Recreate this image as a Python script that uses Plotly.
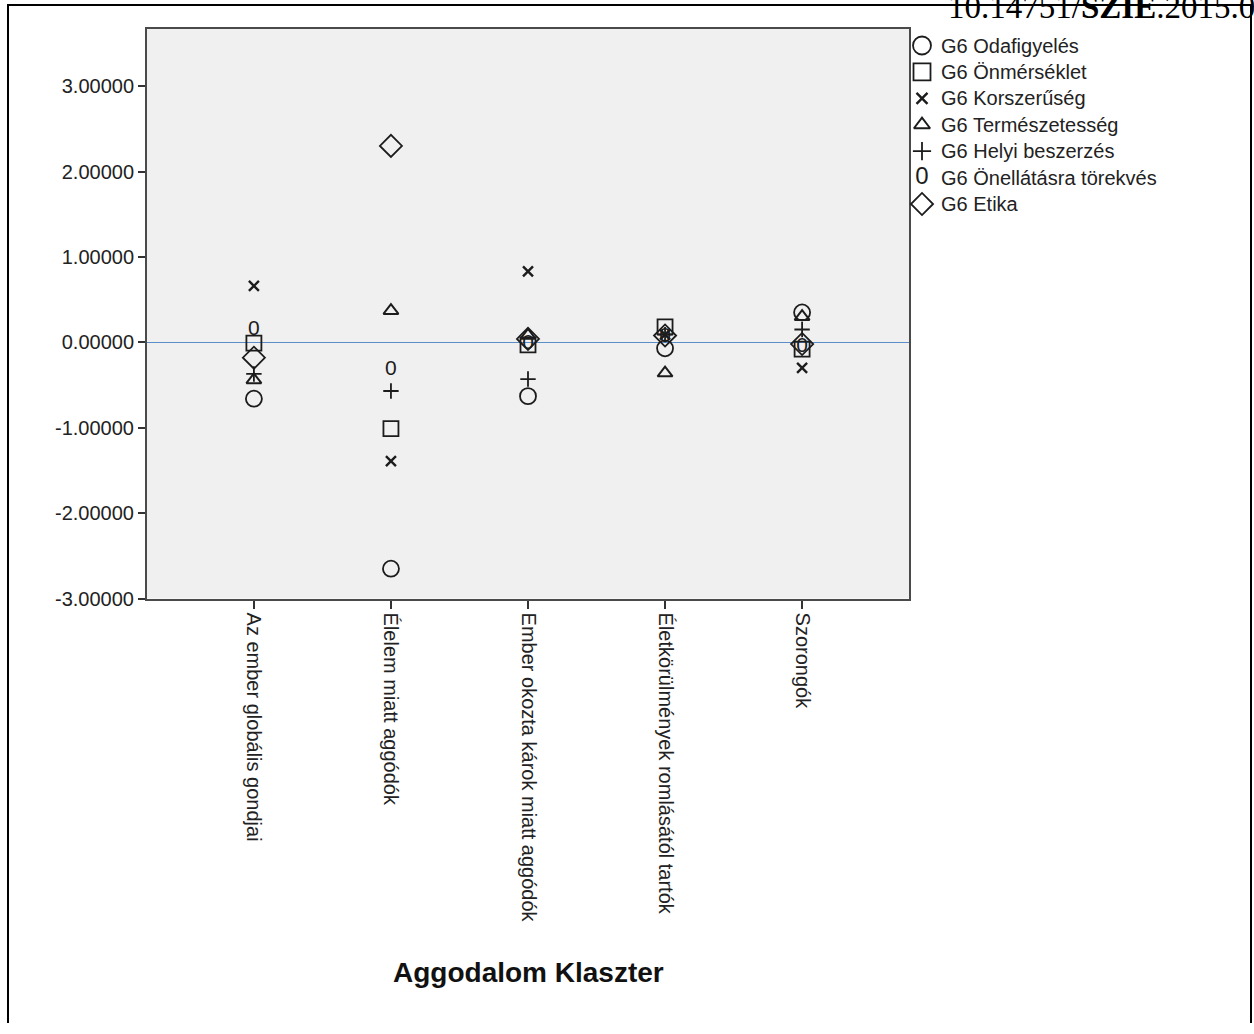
import plotly.graph_objects as go

# Cluster categories on the x axis
categories = [
    "Az ember globális gondjai",
    "Élelem miatt aggódók",
    "Ember okozta károk miatt aggódók",
    "Életkörülmények romlásától tartók",
    "Szorongók",
]

# Mean factor scores per cluster
odafigyeles = [-0.66, -2.65, -0.63, -0.07, 0.35]
onmerseklet = [-0.01, -1.01, -0.03, 0.18, -0.08]
korszeruseg = [0.66, -1.39, 0.83, 0.09, -0.30]
termeszetesseg = [-0.44, 0.37, 0.08, -0.36, 0.30]
helyi_beszerzes = [-0.37, -0.57, -0.43, 0.09, 0.15]
onellatas = [0.15, -0.32, -0.02, 0.07, -0.05]
etika = [-0.18, 2.30, 0.04, 0.08, -0.02]

series_names = [
    "G6 Odafigyelés",
    "G6 Önmérséklet",
    "G6 Korszerűség",
    "G6 Természetesség",
    "G6 Helyi beszerzés",
    "G6 Önellátásra törekvés",
    "G6 Etika",
]

y_ticks = [-3, -2, -1, 0, 1, 2, 3]
y_tick_labels = ["-3.00000", "-2.00000", "-1.00000", "0.00000",
                 "1.00000", "2.00000", "3.00000"]

W, H = 1254, 1034
INK = "#1c1c1c"
FONT = "Liberation Sans, Arial, sans-serif"

# plot area in pixels
PL, PR, PT, PB = 147, 909, 29, 605

# symbol styles: (symbol, size, line width, key size)
styles = [
    ("circle-open", 16, 1.8, 18),
    ("square-open", 15, 1.8, 17),
    ("x-thin-open", 10, 2.4, 11),
    ("triangle-up-open", 13, 2.0, 14),
    ("cross-thin-open", 11, 1.8, 13),
    (None, 21, 0, 24),
    ("diamond-open", 17, 1.8, 17),
]
values = [odafigyeles, onmerseklet, korszeruseg, termeszetesseg,
          helyi_beszerzes, onellatas, etika]

fig = go.Figure()

for name, vals, (sym, size, lw, _) in zip(series_names, values, styles):
    if sym is None:
        # the self-sufficiency series is drawn with a "0" glyph
        fig.add_trace(go.Scatter(
            x=categories, y=vals, mode="text", text=["0"] * len(vals),
            textposition="middle center",
            textfont=dict(family=FONT, size=size, color=INK),
            name=name, showlegend=False, xaxis="x", yaxis="y"))
    else:
        fig.add_trace(go.Scatter(
            x=categories, y=vals, mode="markers", name=name,
            marker=dict(symbol=sym, size=size, color=INK, line=dict(width=lw, color=INK)),
            showlegend=False, xaxis="x", yaxis="y"))

# hand-built key to the right of the plot area
key_y0, key_dy = 46, 26.7
key_x_sym, key_x_txt = 922, 939
for i, (name, (sym, _, lw, ksize)) in enumerate(zip(series_names, styles)):
    yy = key_y0 + i * key_dy
    if sym is None:
        fig.add_trace(go.Scatter(
            x=[key_x_sym], y=[yy], mode="text", text=["0"],
            textposition="middle center",
            textfont=dict(family=FONT, size=ksize, color=INK),
            showlegend=False, xaxis="x2", yaxis="y2", hoverinfo="skip"))
    else:
        fig.add_trace(go.Scatter(
            x=[key_x_sym], y=[yy], mode="markers",
            marker=dict(symbol=sym, size=ksize, color=INK, line=dict(width=lw, color=INK)),
            showlegend=False, xaxis="x2", yaxis="y2", hoverinfo="skip"))
    fig.add_annotation(
        x=key_x_txt, y=yy, xref="x2", yref="y2", text=name, showarrow=False,
        xanchor="left", yanchor="middle",
        font=dict(family=FONT, size=20, color="#222222"))

# axis title
fig.add_annotation(
    x=528, y=983, xref="x2", yref="y2", text="<b>Aggodalom Klaszter</b>",
    showarrow=False, xanchor="center", yanchor="middle",
    font=dict(family=FONT, size=28, color="#111111"))

# page reference printed across the top edge
fig.add_annotation(
    x=946, y=27, xref="x2", yref="y2",
    text="10.14751/<b>SZIE</b>.2015.0",
    showarrow=False, xanchor="left", yanchor="bottom",
    font=dict(family="Liberation Serif, Times New Roman, serif", size=33, color="#000000"))

shapes = [
    # grey plot background
    dict(type="rect", xref="x domain", yref="y domain", x0=0, x1=1, y0=0, y1=1,
         fillcolor="#f0f0f0", line=dict(width=0), layer="below"),
    # outer page frame
    dict(type="rect", xref="x2", yref="y2", x0=8, x1=1251, y0=5, y1=1045,
         line=dict(color="#000000", width=2), fillcolor="rgba(0,0,0,0)", layer="above"),
]

fig.update_layout(
    width=W, height=H, autosize=False,
    margin=dict(l=0, r=0, t=0, b=0, pad=0),
    paper_bgcolor="white", plot_bgcolor="rgba(0,0,0,0)",
    showlegend=False,
    shapes=shapes,
    xaxis=dict(
        type="category", categoryorder="array", categoryarray=categories,
        domain=[PL / W, PR / W], range=[-0.78, 4.78], anchor="y",
        showgrid=False, zeroline=False,
        showline=True, mirror=True, linecolor="#4a4a4a", linewidth=2,
        ticks="outside", ticklen=8, tickwidth=2, tickcolor="#333333",
        tickangle=90, tickfont=dict(family=FONT, size=20, color="#222222"),
    ),
    yaxis=dict(
        domain=[1 - PB / H, 1 - PT / H], range=[-3, 3.672], anchor="x",
        tickvals=y_ticks, ticktext=y_tick_labels,
        showgrid=False,
        zeroline=True, zerolinecolor="#5b8ec8", zerolinewidth=1,
        showline=True, mirror=True, linecolor="#4a4a4a", linewidth=2,
        ticks="outside", ticklen=7, tickwidth=2, tickcolor="#333333",
        tickfont=dict(family=FONT, size=20, color="#222222"),
    ),
    xaxis2=dict(domain=[0, 1], range=[0, W], visible=False, anchor="y2", fixedrange=True),
    yaxis2=dict(domain=[0, 1], range=[H, 0], visible=False, anchor="x2", fixedrange=True),
)

fig.write_html("out.html")
